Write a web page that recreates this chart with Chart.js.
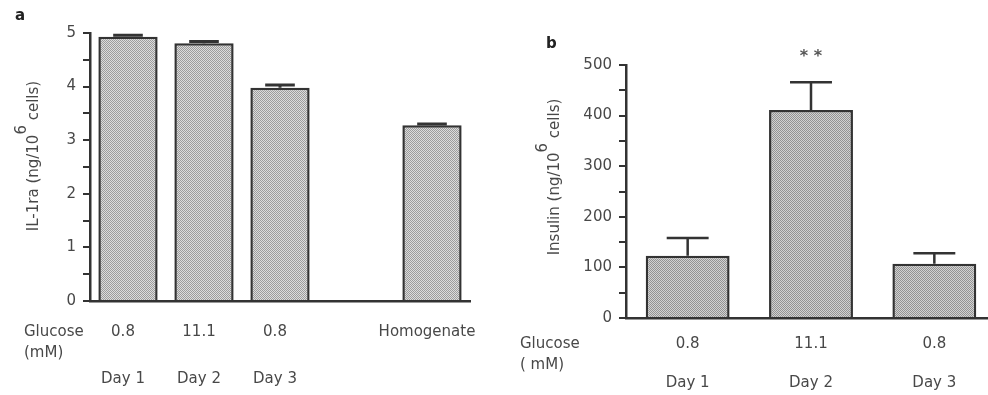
<!DOCTYPE html>
<html>
<head>
<meta charset="utf-8">
<script src="https://cdn.jsdelivr.net/npm/chart.js@4"></script>
<style>
html, body { margin: 0; padding: 0; background: #fff; overflow: hidden; width: 988px; height: 395px; }
#chartA { position: absolute; left: 0; top: 0; }
#chartB { position: absolute; left: 500px; top: 0; }
</style>
</head>
<body>
<canvas id="chartA" width="494" height="395"></canvas>
<canvas id="chartB" width="500" height="395"></canvas>
<script>
/** panel a : IL-1ra **/
const categoriesA = ['Day 1', 'Day 2', 'Day 3', '', 'Homogenate'];
const glucoseA = ['0.8', '11.1', '0.8', '', 'Homogenate'];
const daysA = ['Day 1', 'Day 2', 'Day 3', '', ''];
const il1ra = [4.93, 4.81, 3.98, null, 3.28];
const il1raErr = [0.03, 0.03, 0.05, null, 0.02];
const ticksA = ['0', '1', '2', '3', '4', '5'];

/** panel b : insulin **/
const categoriesB = ['Day 1', 'Day 2', 'Day 3'];
const glucoseB = ['0.8', '11.1', '0.8'];
const daysB = ['Day 1', 'Day 2', 'Day 3'];
const insulin = [123, 411, 107];
const insulinErr = [35, 55, 21];
const ticksB = ['0', '100', '200', '300', '400', '500'];
const starsB = ['', '**', ''];

const INK = '#333';
const TEXT = '#484848';
const FONT = '"DejaVu Sans", sans-serif';

Chart.defaults.font.family = FONT;
Chart.defaults.font.size = 15;
Chart.defaults.color = TEXT;

// stipple fill like the printed figure
function stipple(light, dark) {
	const c = document.createElement('canvas');
	c.width = 2; c.height = 2;
	const g = c.getContext('2d');
	g.fillStyle = light;
	g.fillRect(0, 0, 2, 2);
	g.fillStyle = dark;
	g.fillRect(0, 0, 1, 1);
	g.fillRect(1, 1, 1, 1);
	return g.createPattern(c, 'repeat');
}

function drawYTitle(ctx, cx, cy, part1, sup, part2) {
	ctx.save();
	ctx.translate(cx, cy);
	ctx.rotate(-Math.PI / 2);
	ctx.font = '15px ' + FONT;
	ctx.fillStyle = TEXT;
	ctx.textBaseline = 'middle';
	ctx.textAlign = 'left';
	const w1 = ctx.measureText(part1).width;
	const ws = ctx.measureText(sup).width;
	const w2 = ctx.measureText(part2).width;
	let x = -(w1 + ws + w2) / 2;
	ctx.fillText(part1, x, 0);
	x += w1;
	ctx.fillText(sup, x, -12);
	x += ws;
	ctx.fillText(part2, x, 0);
	ctx.restore();
}

// error bars, labels under the axis, panel letter and titles
function extras(o) {
	return {
		id: 'extras_' + o.letter,
		afterDatasetsDraw(chart) {
			const ctx = chart.ctx;
			const y = chart.scales.y;
			const meta = chart.getDatasetMeta(0);
			ctx.save();
			ctx.strokeStyle = INK;
			ctx.lineWidth = o.errWidth;
			o.values.forEach((v, i) => {
				if (v === null) return;
				const bar = meta.data[i];
				const top = y.getPixelForValue(v + o.errors[i]);
				const half = bar.width / 4;
				ctx.beginPath();
				ctx.moveTo(bar.x, bar.y);
				ctx.lineTo(bar.x, top);
				ctx.moveTo(bar.x - half, top);
				ctx.lineTo(bar.x + half, top);
				ctx.stroke();
				if (o.stars && o.stars[i]) {
					ctx.fillStyle = '#555';
					ctx.font = 'bold 16px ' + FONT;
					ctx.textAlign = 'center';
					ctx.textBaseline = 'middle';
					ctx.fillText(o.stars[i].split('').join(' '), bar.x, top - 25);
				}
			});
			ctx.restore();
		},
		afterDraw(chart) {
			const ctx = chart.ctx;
			const x = chart.scales.x;
			ctx.save();
			ctx.fillStyle = TEXT;
			ctx.font = '15px ' + FONT;
			ctx.textBaseline = 'middle';
			ctx.textAlign = 'center';
			o.glucose.forEach((t, i) => {
				ctx.fillText(t, x.getPixelForValue(i) + o.dx, o.rowGlucose);
				ctx.fillText(o.days[i], x.getPixelForValue(i) + o.dx, o.rowDay);
			});
			ctx.textAlign = 'left';
			ctx.fillText('Glucose', o.labelX, o.rowGlucose);
			ctx.fillText(o.mM, o.labelX, o.rowGlucose + 21);
			ctx.font = 'bold 15px ' + FONT;
			ctx.fillStyle = '#222';
			ctx.fillText(o.letter, o.letterX, o.letterY);
			ctx.restore();
			drawYTitle(ctx, o.titleX, o.titleY, o.title[0], o.title[1], o.title[2]);
		}
	};
}

function makeChart(id, labels, values, max, step, tickLabels, barPct, fill, yWidth, xHeight, pad, plugin) {
	return new Chart(document.getElementById(id), {
		type: 'bar',
		data: {
			labels: labels,
			datasets: [{
				data: values,
				backgroundColor: fill,
				borderColor: INK,
				borderWidth: 2.5,
				barPercentage: barPct,
				categoryPercentage: 1
			}]
		},
		options: {
			responsive: false,
			animation: false,
			events: [],
			layout: { padding: pad },
			plugins: { legend: { display: false }, tooltip: { enabled: false } },
			scales: {
				x: {
					grid: { display: false, drawTicks: false },
					border: { display: true, color: INK, width: 2.5 },
					ticks: { display: false },
					afterFit: function(s) { s.height = xHeight; }
				},
				y: {
					min: 0,
					max: max,
					grid: { drawOnChartArea: false, drawTicks: true, tickLength: 7, color: INK, lineWidth: 2 },
					border: { display: true, color: INK, width: 2.5 },
					ticks: {
						stepSize: step,
						padding: 7,
						color: TEXT,
						callback: function(v) {
							const k = Math.round(v / (step * 2));
							return Math.abs(v - k * step * 2) < 1e-6 ? tickLabels[k] : '';
						}
					},
					afterFit: function(s) { s.width = yWidth; }
				}
			}
		},
		plugins: [plugin]
	});
}

var chartA = makeChart('chartA', categoriesA, il1ra, 5, 0.5, ticksA, 0.78, stipple('#dcdcdc', '#9c9c9c'), 90, 94,
	{ top: 33, right: 24, left: 0, bottom: 0 },
	extras({
		letter: 'a', letterX: 15, letterY: 16, errWidth: 3,
		values: il1ra, errors: il1raErr,
		glucose: glucoseA, days: daysA, dx: -5,
		rowGlucose: 332, rowDay: 379, labelX: 24, mM: '(mM)',
		titleX: 34, titleY: 156, title: ['IL-1ra (ng/10', '6', ' cells)']
	}));

var chartB = makeChart('chartB', categoriesB, insulin, 500, 50, ticksB, 0.68, stipple('#d2d2d2', '#939393'), 126, 77,
	{ top: 65, right: 4, left: 0, bottom: 0 },
	extras({
		letter: 'b', letterX: 46, letterY: 44, errWidth: 2.5,
		values: insulin, errors: insulinErr, stars: starsB,
		glucose: glucoseB, days: daysB, dx: 0,
		rowGlucose: 344, rowDay: 383, labelX: 20, mM: '( mM)',
		titleX: 55, titleY: 177, title: ['Insulin (ng/10', '6', ' cells)']
	}));
</script>
</body>
</html>
